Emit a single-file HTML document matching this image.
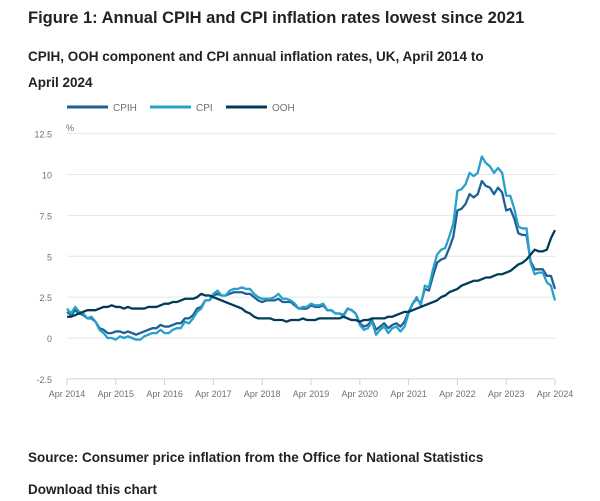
<!DOCTYPE html>
<html><head><meta charset="utf-8"><style>
body{margin:0;width:600px;height:501px;background:#fff;font-family:"Liberation Sans",sans-serif;color:#222;overflow:hidden;position:relative}
.t{position:absolute;left:28px;font-weight:bold;white-space:nowrap}
</style></head><body>
<div class="t" style="top:9px;font-size:16.5px">Figure 1: Annual CPIH and CPI inflation rates lowest since 2021</div>
<div class="t" style="top:44px;font-size:13.5px;line-height:26px">CPIH, OOH component and CPI annual inflation rates, UK, April 2014 to<br>April 2024</div>
<svg id="c" width="600" height="420" style="position:absolute;left:0;top:0" font-family="Liberation Sans, sans-serif"></svg>
<div class="t" style="top:450px;font-size:13.5px">Source: Consumer price inflation from the Office for National Statistics</div>
<div class="t" style="top:482px;font-size:13.5px">Download this chart</div>
<script>
const yTicks=[-2.5,0,2.5,5,7.5,10,12.5];
const yTickLabels=["-2.5","0","2.5","5","7.5","10","12.5"];
const xTickLabels=["Apr 2014","Apr 2015","Apr 2016","Apr 2017","Apr 2018","Apr 2019","Apr 2020","Apr 2021","Apr 2022","Apr 2023","Apr 2024"];
const seriesNames=["CPIH","CPI","OOH"];
const cpih=[1.6,1.4,1.7,1.5,1.4,1.2,1.2,1.0,0.6,0.5,0.3,0.3,0.4,0.4,0.3,0.4,0.3,0.2,0.3,0.4,0.5,0.6,0.6,0.8,0.7,0.7,0.8,0.9,0.9,1.2,1.2,1.4,1.8,1.9,2.3,2.3,2.6,2.7,2.6,2.6,2.7,2.8,2.8,2.8,2.7,2.7,2.5,2.3,2.2,2.3,2.3,2.3,2.4,2.2,2.2,2.2,2.0,1.8,1.8,1.8,2.0,1.9,1.9,2.0,1.7,1.7,1.5,1.5,1.4,1.8,1.7,1.5,0.9,0.7,0.8,1.1,0.5,0.7,0.9,0.6,0.8,0.9,0.7,1.0,1.6,2.1,2.4,2.1,3.0,2.9,3.8,4.6,4.8,4.9,5.5,6.2,7.8,7.9,8.2,8.8,8.6,8.8,9.6,9.3,9.2,8.8,9.2,8.9,7.8,7.9,7.3,6.4,6.3,6.3,4.7,4.2,4.2,4.2,3.8,3.8,3.0];
const cpi=[1.8,1.5,1.9,1.6,1.5,1.2,1.3,1.0,0.5,0.3,0.0,0.0,-0.1,0.1,0.0,0.1,0.0,-0.1,-0.1,0.1,0.2,0.3,0.3,0.5,0.3,0.3,0.5,0.6,0.6,1.0,0.9,1.2,1.6,1.8,2.3,2.3,2.7,2.9,2.6,2.6,2.9,3.0,3.0,3.1,3.0,3.0,2.7,2.5,2.4,2.4,2.4,2.5,2.7,2.4,2.4,2.3,2.1,1.8,1.9,1.9,2.1,2.0,2.0,2.1,1.7,1.7,1.5,1.5,1.3,1.8,1.7,1.5,0.8,0.5,0.6,1.0,0.2,0.5,0.7,0.3,0.6,0.7,0.4,0.7,1.5,2.1,2.5,2.0,3.2,3.1,4.2,5.1,5.4,5.5,6.2,7.0,9.0,9.1,9.4,10.1,9.9,10.1,11.1,10.7,10.5,10.1,10.4,10.1,8.7,8.7,7.9,6.8,6.7,6.7,4.6,3.9,4.0,4.0,3.4,3.2,2.3];
const ooh=[1.3,1.3,1.4,1.5,1.6,1.7,1.7,1.7,1.8,
1.9,1.9,2.0,1.9,1.9,1.8,1.9,1.8,1.8,1.8,1.8,1.9,
1.9,1.9,2.0,2.1,2.1,2.2,2.2,2.3,2.4,2.4,2.4,2.5,
2.7,2.6,2.6,2.5,2.4,2.3,2.2,2.1,2.0,1.9,1.8,1.6,
1.5,1.3,1.2,1.2,1.2,1.2,1.1,1.1,1.1,1.0,1.1,1.1,
1.1,1.2,1.1,1.1,1.1,1.2,1.2,1.2,1.2,1.2,1.2,1.3,
1.2,1.1,1.1,1.0,1.1,1.1,1.2,1.2,1.2,1.2,1.3,1.3,
1.4,1.5,1.6,1.6,1.7,1.8,1.9,2.0,2.1,2.2,2.3,2.5,
2.6,2.8,2.9,3.0,3.2,3.3,3.4,3.5,3.5,3.6,3.7,3.7,
3.8,3.9,3.9,4.0,4.1,4.3,4.5,4.6,4.8,5.1,5.4,5.3,
5.3,5.4,6.1,6.6];
const X0=67,X1=555,Y0=338,PX=16.35;
const ns="http://www.w3.org/2000/svg",svg=document.getElementById('c');
const xs=i=>X0+(X1-X0)*i/120, ys=v=>Y0-v*PX;
function mk(t,a){const e=document.createElementNS(ns,t);for(const k in a)e.setAttribute(k,a[k]);svg.appendChild(e);return e;}
yTicks.forEach((v,i)=>{
 const g=mk('line',{x1:X0,x2:X1,y1:ys(v),y2:ys(v),stroke:v===-2.5?'#d0d0d0':'#e6e6e6','stroke-width':1});
 
 
 const t=mk('text',{x:52,y:ys(v)+4,'text-anchor':'end','font-size':9,fill:'#707070'});t.textContent=yTickLabels[i];
 
 
});
const u=mk('text',{x:66,y:131,'font-size':9,fill:'#707070'});u.textContent='%';


xTickLabels.forEach((l,i)=>{
 const x=xs(i*12);
 const tk=mk('line',{x1:x,x2:x,y1:379,y2:385,stroke:'#d0d0d0'});
 
 
 const t=mk('text',{x:x,y:397,'text-anchor':'middle','font-size':9,fill:'#707070'});t.textContent=l;
 
 
});
const cols=['#206095','#27a0cc','#003c57'];
[cpih,cpi,ooh].forEach((d,k)=>{
 const p=mk('polyline',{points:d.map((v,i)=>xs(i)+','+ys(v)).join(' '),fill:'none',stroke:cols[k],'stroke-width':2.3,'stroke-linejoin':'round'});
 
 
});
const lx=[67,150,226];
seriesNames.forEach((n,k)=>{
 const l=mk('line',{x1:lx[k],x2:lx[k]+41,y1:107,y2:107,stroke:cols[k],'stroke-width':3});
 
 
 const t=mk('text',{x:lx[k]+46,y:111,'font-size':10,fill:'#707070'});t.textContent=n;
 
 
});
</script>
</body></html>
